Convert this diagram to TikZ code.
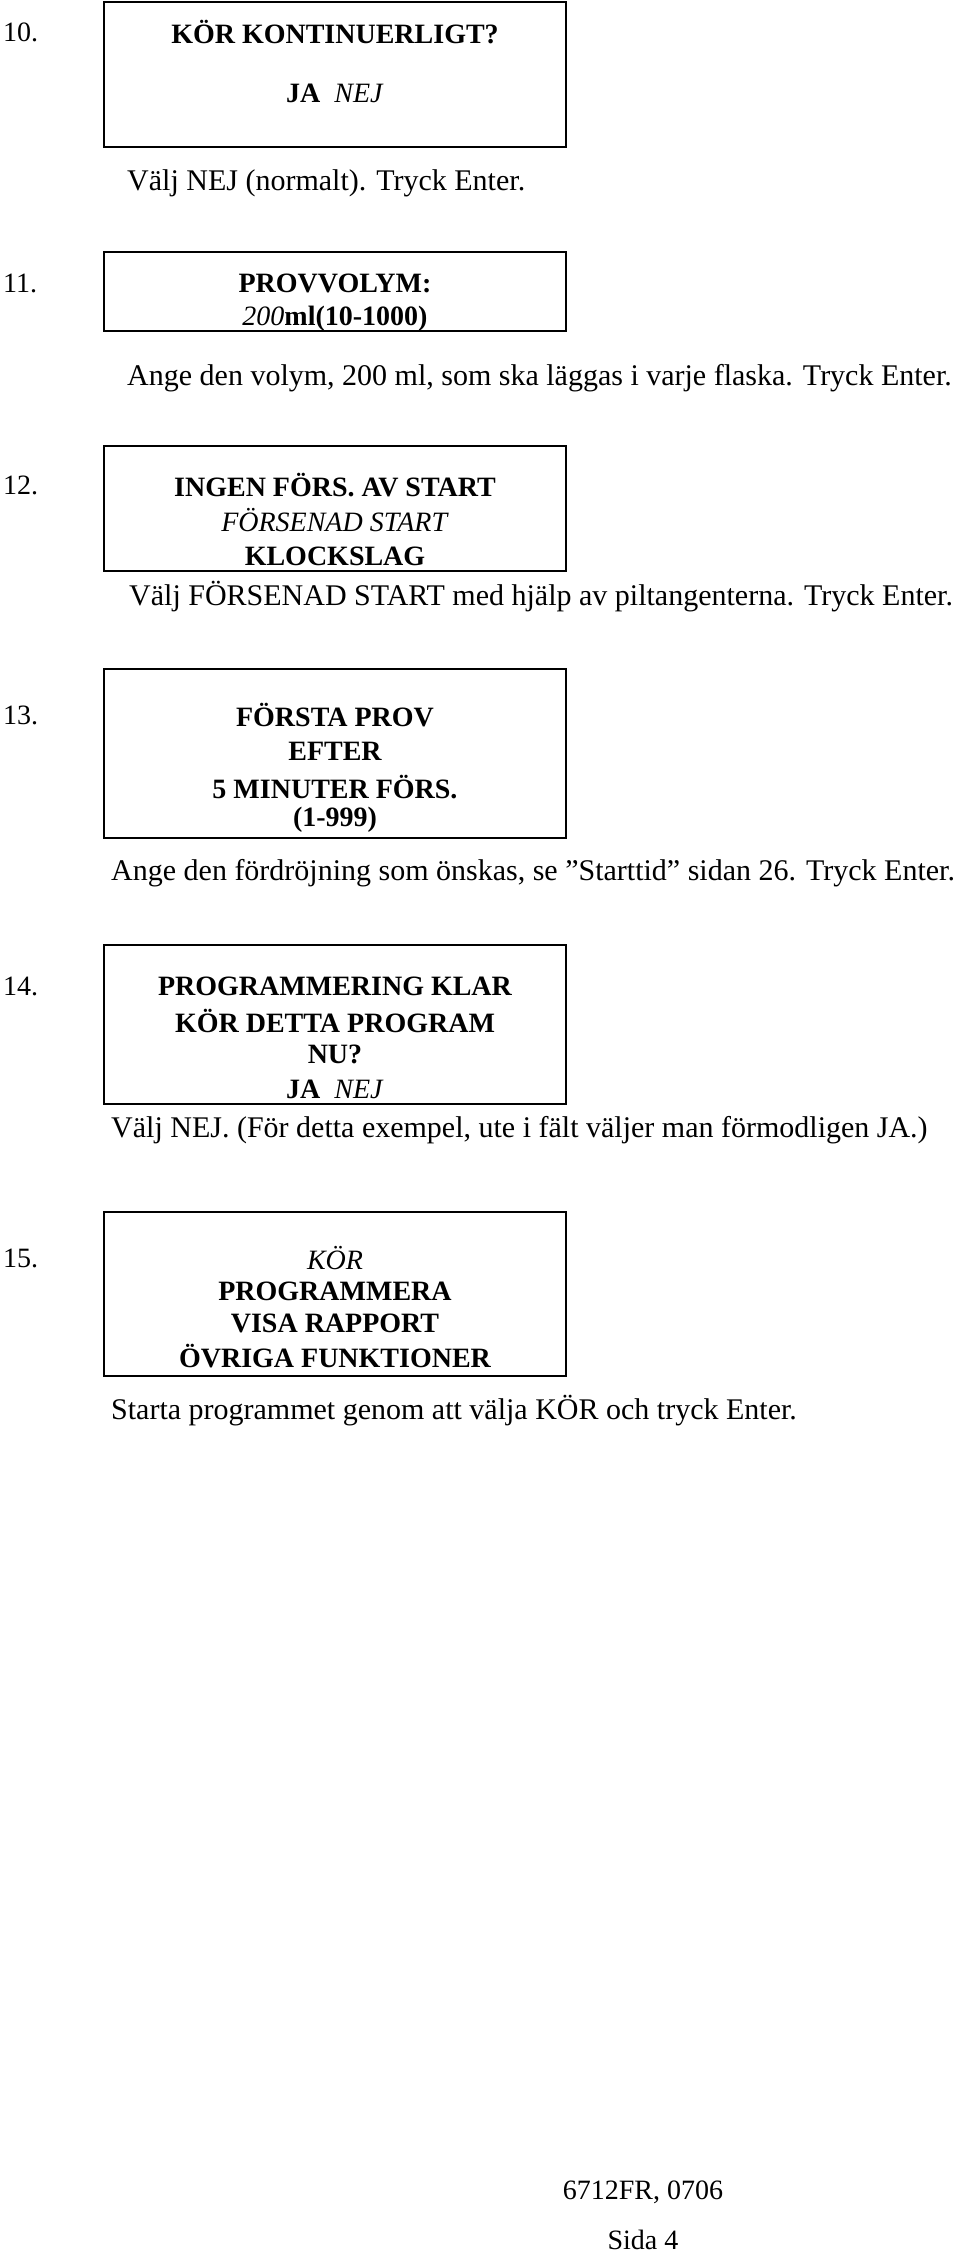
\documentclass[tikz,border=0pt]{standalone}
\usepackage{fontspec}
\setmainfont{Liberation Serif}
\usepackage{tikz}

\tikzset{
  screen/.style={draw,line width=1.6pt},
  num/.style={anchor=west,inner sep=0pt},
  shown/.style={inner sep=0pt,font=\fontsize{28}{32}\selectfont\bfseries},
  note/.style={anchor=west,inner sep=0pt,font=\fontsize{30}{34}\selectfont}
}

\begin{document}
\begin{tikzpicture}[x=1pt,y=-1pt,font=\fontsize{28}{32}\selectfont]
  \useasboundingbox (0,0) rectangle (960,2255);
  % 10.
  \draw [screen] (104,2) rectangle (566,147);
  \node [num] (n10) at (3,32) {10.};
  \node [shown] (a1) at (335,32) {KÖR KONTINUERLIGT?};
  \node [shown] (a2) at (335,93) {JA\ \ \textmd{\itshape NEJ}};
  \node [note] (d10) at (127,183) {Välj NEJ (normalt). Tryck Enter.};
  % 11.
  \draw [screen] (104,252) rectangle (566,331);
  \node [num] (n11) at (3,283) {11.};
  \node [shown] (b1) at (335,283) {PROVVOLYM:};
  \node [shown] (b2) at (335,319) {\textmd{\itshape 200}ml(10-1000)};
  \node [note] (d11) at (127,378) {Ange den volym, 200 ml, som ska läggas i varje flaska. Tryck Enter.};
  % 12.
  \draw [screen] (104,446) rectangle (566,571);
  \node [num] (n12) at (3,485) {12.};
  \node [shown] (c1) at (335,485) {INGEN FÖRS. AV START};
  \node [shown] (c2) at (335,520) {\textmd{\itshape FÖRSENAD START}};
  \node [shown] (c3) at (335,556) {KLOCKSLAG};
  \node [note] (d12) at (129,597) {Välj FÖRSENAD START med hjälp av piltangenterna. Tryck Enter.};
  % 13.
  \draw [screen] (104,669) rectangle (566,838);
  \node [num] (n13) at (3,715) {13.};
  \node [shown] (e1) at (335,715) {FÖRSTA PROV};
  \node [shown] (e2) at (335,751) {EFTER};
  \node [shown] (e3) at (335,787) {5 MINUTER FÖRS.};
  \node [shown] (e4) at (335,820) {(1-999)};
  \node [note] (d13) at (111,873) {Ange den fördröjning som önskas, se ”Starttid” sidan 26. Tryck Enter.};
  % 14.
  \draw [screen] (104,945) rectangle (566,1104);
  \node [num] (n14) at (3,986) {14.};
  \node [shown] (f1) at (335,986) {PROGRAMMERING KLAR};
  \node [shown] (f2) at (335,1021) {KÖR DETTA PROGRAM};
  \node [shown] (f3) at (335,1054) {NU?};
  \node [shown] (f4) at (335,1089) {JA\ \ \textmd{\itshape NEJ}};
  \node [note] (d14) at (111,1130) {Välj NEJ. (För detta exempel, ute i fält väljer man förmodligen JA.)};
  % 15.
  \draw [screen] (104,1212) rectangle (566,1376);
  \node [num] (n15) at (3,1258) {15.};
  \node [shown] (g1) at (335,1258) {\mdseries\itshape KÖR};
  \node [shown] (g2) at (335,1291) {PROGRAMMERA};
  \node [shown] (g3) at (335,1323) {VISA RAPPORT};
  \node [shown] (g4) at (335,1356) {ÖVRIGA FUNKTIONER};
  \node [note] (d15) at (111,1411) {Starta programmet genom att välja KÖR och tryck Enter.};
  % sidfot
  \node [inner sep=0pt] (doc) at (643,2192) {6712FR, 0706};
  \node [inner sep=0pt] (sida) at (643,2240) {Sida 4};
\end{tikzpicture}
\end{document}
